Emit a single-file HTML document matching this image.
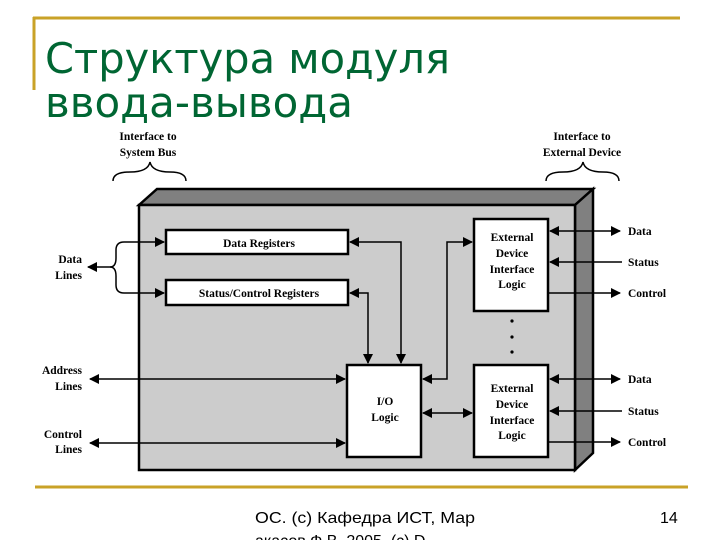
<!DOCTYPE html>
<html><head><meta charset="utf-8"><style>
html,body{margin:0;padding:0;background:#fff;width:720px;height:540px;overflow:hidden}
svg{display:block}
.t{font-family:"Liberation Serif",serif;font-weight:bold;font-size:11.5px;fill:#000}
</style></head><body>
<svg width="720" height="540" viewBox="0 0 720 540" xmlns="http://www.w3.org/2000/svg">
<defs>
<marker id="a" markerWidth="10" markerHeight="10" refX="9" refY="5" orient="auto-start-reverse" markerUnits="userSpaceOnUse">
<path d="M0,0 L10,5 L0,10 z" fill="#000"/></marker>
</defs>
<!-- slide decorations -->
<line x1="33" y1="18" x2="680" y2="18" stroke="#C9A227" stroke-width="3"/>
<line x1="34" y1="17" x2="34" y2="90" stroke="#C9A227" stroke-width="3"/>
<line x1="35" y1="487" x2="688" y2="487" stroke="#C9A227" stroke-width="3"/>
<text x="45" y="73" font-family="DejaVu Sans,sans-serif" font-size="42" fill="#006633" textLength="405" lengthAdjust="spacingAndGlyphs">Структура модуля</text>
<text x="45" y="117" font-family="DejaVu Sans,sans-serif" font-size="42" fill="#006633" textLength="308" lengthAdjust="spacingAndGlyphs">ввода-вывода</text>
<text x="255" y="523" font-family="Liberation Sans,sans-serif" font-size="16" fill="#000" textLength="220" lengthAdjust="spacingAndGlyphs">ОС. (с) Кафедра ИСТ, Мар</text>
<text x="255" y="546" font-family="Liberation Sans,sans-serif" font-size="16" fill="#000">акасов Ф.В. 2005, (с) D</text>
<text x="660" y="523" font-family="Liberation Sans,sans-serif" font-size="16" fill="#000">14</text>

<!-- 3D box -->
<polygon points="139,205 157,189 593,189 575,205" fill="#808080" stroke="#000" stroke-width="2.5"/>
<polygon points="575,205 593,189 593,453 575,470" fill="#808080" stroke="#000" stroke-width="2.5"/>
<rect x="139" y="205" width="436" height="265" fill="#cccccc" stroke="#000" stroke-width="2.5"/>

<!-- braces -->
<path d="M113,181 Q113,172 130,172 Q148,172 150,162 Q152,172 170,172 Q186,172 186,181" fill="none" stroke="#000" stroke-width="1.5"/>
<path d="M546,181 Q546,172 563,172 Q581,172 583,162 Q585,172 603,172 Q619,172 619,181" fill="none" stroke="#000" stroke-width="1.5"/>
<text class="t" x="148" y="140" text-anchor="middle">Interface to</text>
<text class="t" x="148" y="156" text-anchor="middle">System Bus</text>
<text class="t" x="582" y="140" text-anchor="middle">Interface to</text>
<text class="t" x="582" y="156" text-anchor="middle">External Device</text>

<!-- boxes -->
<rect x="166" y="230" width="182" height="24" fill="#fff" stroke="#000" stroke-width="2.5"/>
<text class="t" x="259" y="247" text-anchor="middle">Data Registers</text>
<rect x="166" y="280" width="182" height="25" fill="#fff" stroke="#000" stroke-width="2.5"/>
<text class="t" x="259" y="297" text-anchor="middle">Status/Control Registers</text>
<rect x="347" y="365" width="74" height="92" fill="#fff" stroke="#000" stroke-width="2.5"/>
<text class="t" x="385" y="405" text-anchor="middle">I/O</text>
<text class="t" x="385" y="421" text-anchor="middle">Logic</text>
<rect x="474" y="219" width="74" height="92" fill="#fff" stroke="#000" stroke-width="2.5"/>
<text class="t" x="512" y="241" text-anchor="middle">External</text>
<text class="t" x="512" y="257" text-anchor="middle">Device</text>
<text class="t" x="512" y="273" text-anchor="middle">Interface</text>
<text class="t" x="512" y="288" text-anchor="middle">Logic</text>
<rect x="474" y="365" width="74" height="92" fill="#fff" stroke="#000" stroke-width="2.5"/>
<text class="t" x="512" y="392" text-anchor="middle">External</text>
<text class="t" x="512" y="408" text-anchor="middle">Device</text>
<text class="t" x="512" y="424" text-anchor="middle">Interface</text>
<text class="t" x="512" y="439" text-anchor="middle">Logic</text>
<circle cx="512" cy="321" r="1.6"/><circle cx="512" cy="337" r="1.6"/><circle cx="512" cy="352" r="1.6"/>

<!-- left labels -->
<text class="t" x="82" y="263" text-anchor="end">Data</text>
<text class="t" x="82" y="279" text-anchor="end">Lines</text>
<text class="t" x="82" y="374" text-anchor="end">Address</text>
<text class="t" x="82" y="390" text-anchor="end">Lines</text>
<text class="t" x="82" y="438" text-anchor="end">Control</text>
<text class="t" x="82" y="453" text-anchor="end">Lines</text>

<g stroke="#000" stroke-width="1.5" fill="none">
<line x1="110" y1="267" x2="88" y2="267" marker-end="url(#a)"/>
<path d="M110,267 Q116,267 116,258 L116,250 Q116,242 124,242 L164,242" marker-end="url(#a)"/>
<path d="M110,267 Q116,267 116,276 L116,285 Q116,293 124,293 L164,293" marker-end="url(#a)"/>
<line x1="90" y1="379" x2="345" y2="379" marker-start="url(#a)" marker-end="url(#a)"/>
<line x1="90" y1="443" x2="345" y2="443" marker-start="url(#a)" marker-end="url(#a)"/>
<path d="M350,242 L401,242 L401,363" marker-start="url(#a)" marker-end="url(#a)"/>
<path d="M350,293 L368,293 L368,363" marker-start="url(#a)" marker-end="url(#a)"/>
<path d="M423,379 L447,379 L447,242 L472,242" marker-start="url(#a)" marker-end="url(#a)"/>
<line x1="423" y1="413" x2="472" y2="413" marker-start="url(#a)" marker-end="url(#a)"/>
<line x1="550" y1="231" x2="620" y2="231" marker-start="url(#a)" marker-end="url(#a)"/>
<line x1="622" y1="262" x2="550" y2="262" marker-end="url(#a)"/>
<line x1="548" y1="293" x2="620" y2="293" marker-end="url(#a)"/>
<line x1="550" y1="379" x2="620" y2="379" marker-start="url(#a)" marker-end="url(#a)"/>
<line x1="622" y1="411" x2="550" y2="411" marker-end="url(#a)"/>
<line x1="548" y1="442" x2="620" y2="442" marker-end="url(#a)"/>
</g>
<text class="t" x="628" y="235">Data</text>
<text class="t" x="628" y="266">Status</text>
<text class="t" x="628" y="297">Control</text>
<text class="t" x="628" y="383">Data</text>
<text class="t" x="628" y="415">Status</text>
<text class="t" x="628" y="446">Control</text>
</svg>
</body></html>
